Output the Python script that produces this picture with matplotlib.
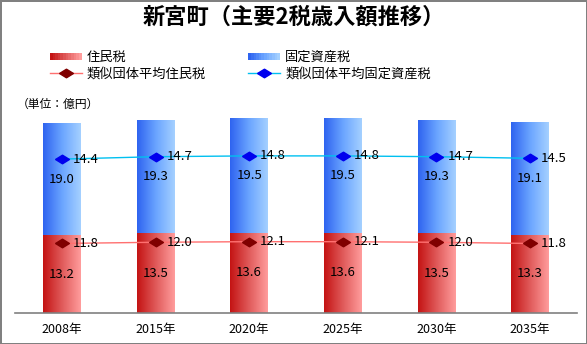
import numpy as np
import matplotlib
matplotlib.use("Agg")
import matplotlib.pyplot as plt
from matplotlib.colors import LinearSegmentedColormap
from matplotlib.patches import Rectangle
from matplotlib.lines import Line2D
from matplotlib.legend_handler import HandlerBase

plt.rcParams['font.family'] = ['Noto Sans CJK JP', 'DejaVu Sans']

years = ['2008年', '2015年', '2020年', '2025年', '2030年', '2035年']
jumin = [13.2, 13.5, 13.6, 13.6, 13.5, 13.3]        # 住民税
kotei = [19.0, 19.3, 19.5, 19.5, 19.3, 19.1]        # 固定資産税
avg_jumin = [11.8, 12.0, 12.1, 12.1, 12.0, 11.8]    # 類似団体平均住民税
avg_kotei = [14.4, 14.7, 14.8, 14.8, 14.7, 14.5]    # 類似団体平均固定資産税

red_cmap = LinearSegmentedColormap.from_list('r', ['#c41414', '#e05a5a', '#ff9c9c'])
blue_cmap = LinearSegmentedColormap.from_list('b', ['#2f64f0', '#6aa4ff', '#a4d0ff'])
grad = np.linspace(0, 1, 64).reshape(1, -1)

# flattened diamond like the Excel marker
diamond = [(-1, 0), (0, 0.62), (1, 0), (0, -0.62), (-1, 0)]


def fill_gradient(ax, bars, cmap):
    for b in bars:
        x0, y0 = b.get_x(), b.get_y()
        w, h = b.get_width(), b.get_height()
        im = ax.imshow(grad, cmap=cmap, aspect='auto', extent=(x0, x0 + w, y0, y0 + h),
                       zorder=2, interpolation='bilinear')
        im.set_clip_path(b)
        b.set_facecolor('none')


class HandlerGradient(HandlerBase):
    def __init__(self, cmap):
        super().__init__()
        self.cmap = cmap

    def create_artists(self, legend, orig, xd, yd, width, height, fontsize, trans):
        n = 12
        out = []
        for i in range(n):
            r = Rectangle((xd + width * i / n, yd + height * 0.1), width / n + 0.3, height * 0.75,
                          facecolor=self.cmap(i / (n - 1)), edgecolor='none', transform=trans)
            out.append(r)
        return out


fig = plt.figure(figsize=(5.87, 3.44), dpi=100)
fig.patch.set_edgecolor('#808080')
fig.patch.set_linewidth(2)

ax = fig.add_axes([15 / 587, 0.09, 562 / 587, 0.60])
x = np.arange(len(years))
w = 0.405

b1 = ax.bar(x, jumin, w, color='#e06060', zorder=2)
b2 = ax.bar(x, kotei, w, bottom=jumin, color='#6aa4ff', zorder=2)
fill_gradient(ax, b1, red_cmap)
fill_gradient(ax, b2, blue_cmap)

for i in range(len(years)):
    ax.text(x[i], jumin[i] / 2, f'{jumin[i]:.1f}', ha='center', va='center', fontsize=9.5, zorder=5)
    ax.text(x[i], jumin[i] + kotei[i] / 2, f'{kotei[i]:.1f}', ha='center', va='center',
            fontsize=9.5, zorder=5)

ax.plot(x, avg_jumin, color='#ff7070', lw=1, marker=diamond, ms=10, mfc='#800000', mec='#800000',
        zorder=4)
for i in range(len(years)):
    ax.annotate(f'{avg_jumin[i]:.1f}', (x[i], avg_jumin[i]), xytext=(8, 0),
                textcoords='offset points', ha='left', va='center', fontsize=9.5, zorder=5)

ax.set_xlim(-0.5, len(years) - 0.5)
ax.set_ylim(0, 35)
ax.set_xticks(x)
ax.set_xticklabels(years, fontsize=9)
ax.tick_params(axis='x', length=0, pad=7)
ax.set_yticks([])
for s in ['top', 'right', 'left']:
    ax.spines[s].set_visible(False)
ax.spines['bottom'].set_color('#808080')
ax.spines['bottom'].set_linewidth(1.2)

ax2 = ax.twinx()
ax2.plot(x, avg_kotei, color='#00c0f0', lw=1, marker=diamond, ms=10, mfc='#0000ee', mec='#0000ee',
         zorder=4)
for i in range(len(years)):
    ax2.annotate(f'{avg_kotei[i]:.1f}', (x[i], avg_kotei[i]), xytext=(8, 0),
                 textcoords='offset points', ha='left', va='center', fontsize=9.5, zorder=5)
ax2.set_ylim(-4.85, 20.96)
ax2.set_yticks([])
ax2.axis('off')

fig.text(0.5, 1 - 17 / 344, '新宮町（主要2税歳入額推移）', ha='center', va='center', fontsize=16,
         fontweight='bold')
fig.text(17 / 587, 1 - 104 / 344, '（単位：億円）', ha='left', va='center', fontsize=8.5)

h_red = Rectangle((0, 0), 1, 1)
h_blue = Rectangle((0, 0), 1, 1)
h_l1 = Line2D([], [], color='#ff7070', lw=1, marker=diamond, ms=10, mfc='#800000', mec='#800000')
h_l2 = Line2D([], [], color='#00c0f0', lw=1, marker=diamond, ms=10, mfc='#0000ee', mec='#0000ee')
fig.legend([h_red, h_l1, h_blue, h_l2],
           ['住民税', '類似団体平均住民税', '固定資産税', '類似団体平均固定資産税'],
           ncol=2, loc='upper left', bbox_to_anchor=(38 / 587, 1 - 39 / 344), frameon=False,
           fontsize=9.5, handlelength=2.4, handletextpad=0.4, columnspacing=3.2, labelspacing=0.25,
           handler_map={h_red: HandlerGradient(red_cmap), h_blue: HandlerGradient(blue_cmap)})

fig.savefig('out.png', dpi=100)
